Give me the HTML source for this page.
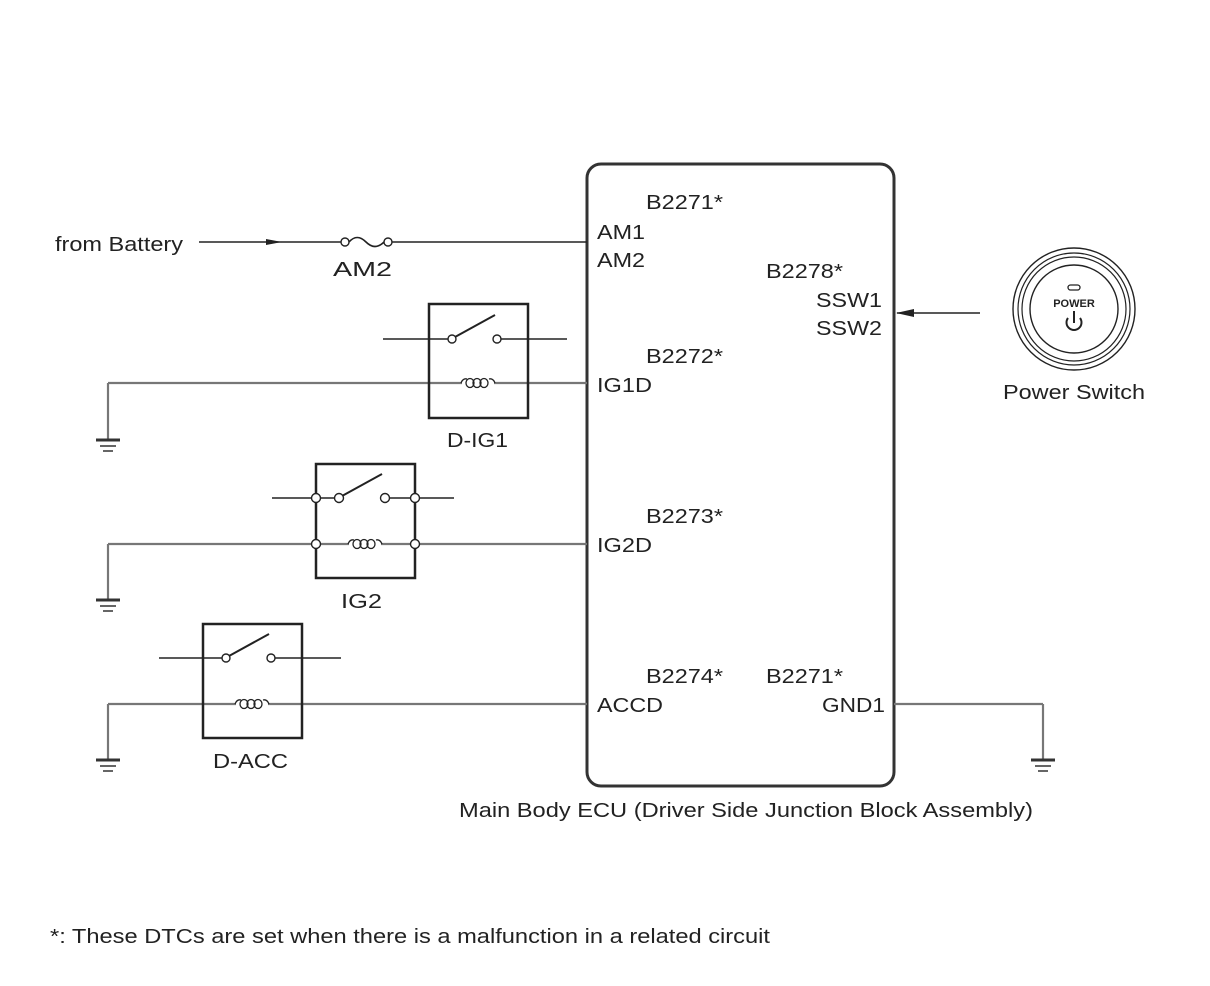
<!DOCTYPE html>
<html><head><meta charset="utf-8"><style>
html,body{margin:0;padding:0;background:#fff;}
svg{display:block;}
text{font-family:"Liberation Sans",Arial,sans-serif;font-size:20px;fill:#222;}
</style></head><body>
<svg width="1210" height="986" viewBox="0 0 1210 986" xmlns="http://www.w3.org/2000/svg">
<rect width="1210" height="986" fill="#fff"/>
<defs>
<g id="coil">
<rect x="-16" y="-6" width="32" height="12" fill="#fff"/>
<path d="M-17,0 q2,-5 6,-4 M11,-4 q4,-1 6,4" fill="none" stroke="#222" stroke-width="1.3"/>
<ellipse cx="-8" cy="0" rx="4" ry="4.5" fill="none" stroke="#222" stroke-width="1.3"/>
<ellipse cx="-1" cy="0" rx="4" ry="4.5" fill="none" stroke="#222" stroke-width="1.3"/>
<ellipse cx="6" cy="0" rx="4" ry="4.5" fill="none" stroke="#222" stroke-width="1.3"/>
</g>
</defs>
<rect x="587" y="164" width="307" height="622" rx="14" ry="14" fill="none" stroke="#333" stroke-width="3"/>
<line x1="199" y1="242" x2="341" y2="242" stroke="#222" stroke-width="1.6"/>
<polygon points="266,239 282,242 266,245" fill="#222"/>
<circle cx="345" cy="242" r="4" fill="#fff" stroke="#222" stroke-width="1.4"/>
<path d="M349,242 Q357,233 366,242 Q375,251 384,242" fill="none" stroke="#222" stroke-width="1.6"/>
<circle cx="388" cy="242" r="4" fill="#fff" stroke="#222" stroke-width="1.4"/>
<line x1="392" y1="242" x2="587" y2="242" stroke="#222" stroke-width="1.6"/>
<text x="55" y="251" textLength="128" lengthAdjust="spacingAndGlyphs">from Battery</text>
<text x="333" y="276" textLength="59" lengthAdjust="spacingAndGlyphs">AM2</text>
<text x="646" y="209" textLength="77" lengthAdjust="spacingAndGlyphs">B2271*</text>
<text x="597" y="239" textLength="48" lengthAdjust="spacingAndGlyphs">AM1</text>
<text x="597" y="267" textLength="48" lengthAdjust="spacingAndGlyphs">AM2</text>
<text x="766" y="278" textLength="77" lengthAdjust="spacingAndGlyphs">B2278*</text>
<text x="816" y="307" textLength="66" lengthAdjust="spacingAndGlyphs">SSW1</text>
<text x="816" y="335" textLength="66" lengthAdjust="spacingAndGlyphs">SSW2</text>
<text x="646" y="363" textLength="77" lengthAdjust="spacingAndGlyphs">B2272*</text>
<text x="597" y="392" textLength="55" lengthAdjust="spacingAndGlyphs">IG1D</text>
<text x="646" y="523" textLength="77" lengthAdjust="spacingAndGlyphs">B2273*</text>
<text x="597" y="552" textLength="55" lengthAdjust="spacingAndGlyphs">IG2D</text>
<text x="646" y="683" textLength="77" lengthAdjust="spacingAndGlyphs">B2274*</text>
<text x="766" y="683" textLength="77" lengthAdjust="spacingAndGlyphs">B2271*</text>
<text x="597" y="712" textLength="66" lengthAdjust="spacingAndGlyphs">ACCD</text>
<text x="822" y="712" textLength="63" lengthAdjust="spacingAndGlyphs">GND1</text>
<line x1="980" y1="313" x2="897" y2="313" stroke="#222" stroke-width="1.6"/>
<polygon points="896,313 914,309 914,317" fill="#222"/>
<circle cx="1074" cy="309" r="61" fill="none" stroke="#222" stroke-width="1.4"/>
<circle cx="1074" cy="309" r="56" fill="none" stroke="#222" stroke-width="1.2"/>
<circle cx="1074" cy="309" r="52" fill="none" stroke="#222" stroke-width="1.2"/>
<circle cx="1074" cy="309" r="44" fill="none" stroke="#222" stroke-width="1.4"/>
<rect x="1068" y="285" width="12" height="5" rx="2.5" fill="none" stroke="#222" stroke-width="1.3"/>
<text x="1074" y="307" text-anchor="middle" style="font-size:11px;font-weight:bold">POWER</text>
<path d="M1068,318 A7.5,7.5 0 1 0 1080,318" fill="none" stroke="#222" stroke-width="2"/>
<line x1="1074" y1="311" x2="1074" y2="323" stroke="#222" stroke-width="2"/>
<text x="1003" y="399" textLength="142" lengthAdjust="spacingAndGlyphs">Power Switch</text>
<line x1="108" y1="383" x2="587" y2="383" stroke="#777" stroke-width="2.2"/>
<line x1="108" y1="383" x2="108" y2="440" stroke="#777" stroke-width="2.2"/>
<rect x="429" y="304" width="99" height="114" fill="none" stroke="#222" stroke-width="2.5"/>
<line x1="383" y1="339" x2="448" y2="339" stroke="#222" stroke-width="1.6"/>
<line x1="501" y1="339" x2="567" y2="339" stroke="#222" stroke-width="1.6"/>
<line x1="455" y1="337" x2="495" y2="315" stroke="#222" stroke-width="2"/>
<circle cx="452" cy="339" r="4" fill="#fff" stroke="#222" stroke-width="1.4"/>
<circle cx="497" cy="339" r="4" fill="#fff" stroke="#222" stroke-width="1.4"/>
<use href="#coil" x="478" y="383"/>
<text x="447" y="447" textLength="61" lengthAdjust="spacingAndGlyphs">D-IG1</text>
<line x1="108" y1="544" x2="587" y2="544" stroke="#777" stroke-width="2.2"/>
<line x1="108" y1="544" x2="108" y2="600" stroke="#777" stroke-width="2.2"/>
<rect x="316" y="464" width="99" height="114" fill="none" stroke="#222" stroke-width="2.5"/>
<line x1="272" y1="498" x2="454" y2="498" stroke="#222" stroke-width="1.6"/>
<rect x="344" y="494" width="37" height="8" fill="#fff"/>
<line x1="342" y1="496" x2="382" y2="474" stroke="#222" stroke-width="2"/>
<circle cx="316" cy="498" r="4.5" fill="#fff" stroke="#222" stroke-width="1.4"/>
<circle cx="339" cy="498" r="4.5" fill="#fff" stroke="#222" stroke-width="1.4"/>
<circle cx="385" cy="498" r="4.5" fill="#fff" stroke="#222" stroke-width="1.4"/>
<circle cx="415" cy="498" r="4.5" fill="#fff" stroke="#222" stroke-width="1.4"/>
<use href="#coil" x="365" y="544"/>
<circle cx="316" cy="544" r="4.5" fill="#fff" stroke="#222" stroke-width="1.4"/>
<circle cx="415" cy="544" r="4.5" fill="#fff" stroke="#222" stroke-width="1.4"/>
<text x="341" y="608" textLength="41" lengthAdjust="spacingAndGlyphs">IG2</text>
<line x1="108" y1="704" x2="587" y2="704" stroke="#777" stroke-width="2.2"/>
<line x1="108" y1="704" x2="108" y2="760" stroke="#777" stroke-width="2.2"/>
<rect x="203" y="624" width="99" height="114" fill="none" stroke="#222" stroke-width="2.5"/>
<line x1="159" y1="658" x2="222" y2="658" stroke="#222" stroke-width="1.6"/>
<line x1="275" y1="658" x2="341" y2="658" stroke="#222" stroke-width="1.6"/>
<line x1="229" y1="656" x2="269" y2="634" stroke="#222" stroke-width="2"/>
<circle cx="226" cy="658" r="4" fill="#fff" stroke="#222" stroke-width="1.4"/>
<circle cx="271" cy="658" r="4" fill="#fff" stroke="#222" stroke-width="1.4"/>
<use href="#coil" x="252" y="704"/>
<text x="213" y="768" textLength="75" lengthAdjust="spacingAndGlyphs">D-ACC</text>
<line x1="894" y1="704" x2="1043" y2="704" stroke="#777" stroke-width="2.2"/>
<line x1="1043" y1="704" x2="1043" y2="760" stroke="#777" stroke-width="2.2"/>
<g stroke="#333">
<line x1="96" y1="440" x2="120" y2="440" stroke-width="3"/><line x1="100" y1="446" x2="116" y2="446" stroke-width="1.5"/><line x1="103" y1="451" x2="113" y2="451" stroke-width="1.5"/>
<line x1="96" y1="600" x2="120" y2="600" stroke-width="3"/><line x1="100" y1="606" x2="116" y2="606" stroke-width="1.5"/><line x1="103" y1="611" x2="113" y2="611" stroke-width="1.5"/>
<line x1="96" y1="760" x2="120" y2="760" stroke-width="3"/><line x1="100" y1="766" x2="116" y2="766" stroke-width="1.5"/><line x1="103" y1="771" x2="113" y2="771" stroke-width="1.5"/>
<line x1="1031" y1="760" x2="1055" y2="760" stroke-width="3"/><line x1="1035" y1="766" x2="1051" y2="766" stroke-width="1.5"/><line x1="1038" y1="771" x2="1048" y2="771" stroke-width="1.5"/>
</g>
<text x="459" y="817" textLength="574" lengthAdjust="spacingAndGlyphs">Main Body ECU (Driver Side Junction Block Assembly)</text>
<text x="50" y="943" textLength="720" lengthAdjust="spacingAndGlyphs">*: These DTCs are set when there is a malfunction in a related circuit</text>
</svg>
</body></html>
